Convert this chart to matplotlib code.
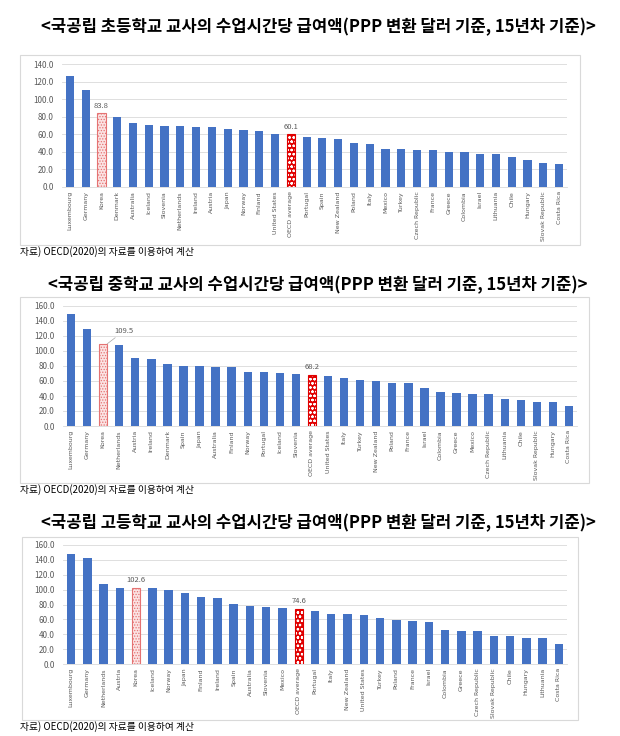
import matplotlib
matplotlib.use('Agg')
import matplotlib.pyplot as plt
from matplotlib.patches import Rectangle

plt.rcParams['font.family'] = ['Noto Sans CJK KR', 'DejaVu Sans']
plt.rcParams['hatch.linewidth'] = 0.6

# 초등학교
elem_countries = ['Luxembourg', 'Germany', 'Korea', 'Denmark', 'Australia', 'Iceland', 'Slovenia',
                  'Netherlands', 'Ireland', 'Austria', 'Japan', 'Norway', 'Finland', 'United States',
                  'OECD average', 'Portugal', 'Spain', 'New Zealand', 'Poland', 'Italy', 'Mexico',
                  'Turkey', 'Czech Republic', 'France', 'Greece', 'Colombia', 'Israel', 'Lithuania',
                  'Chile', 'Hungary', 'Slovak Republic', 'Costa Rica']
elem_values = [126.0, 110.0, 83.8, 80.0, 73.0, 71.0, 70.0, 70.0, 68.5, 68.0, 65.5, 65.0, 63.5, 60.5,
               60.1, 57.0, 55.5, 55.0, 50.5, 49.5, 43.5, 43.5, 42.0, 42.0, 40.0, 40.0, 38.0, 38.0,
               34.0, 31.0, 27.5, 26.0]

# 중학교
mid_countries = ['Luxembourg', 'Germany', 'Korea', 'Netherlands', 'Austria', 'Ireland', 'Denmark',
                 'Spain', 'Japan', 'Australia', 'Finland', 'Norway', 'Portugal', 'Iceland', 'Slovenia',
                 'OECD average', 'United States', 'Italy', 'Turkey', 'New Zealand', 'Poland', 'France',
                 'Israel', 'Colombia', 'Greece', 'Mexico', 'Czech Republic', 'Lithuania', 'Chile',
                 'Slovak Republic', 'Hungary', 'Costa Rica']
mid_values = [149.0, 129.0, 109.5, 108.0, 91.0, 89.0, 82.0, 80.5, 79.5, 78.5, 78.5, 72.5, 71.5, 70.5,
              69.0, 68.2, 66.5, 64.5, 61.5, 60.0, 58.0, 58.0, 51.0, 46.0, 43.5, 43.0, 43.0, 36.0,
              35.0, 32.5, 32.5, 26.5]

# 고등학교
high_countries = ['Luxembourg', 'Germany', 'Netherlands', 'Austria', 'Korea', 'Iceland', 'Norway',
                  'Japan', 'Finland', 'Ireland', 'Spain', 'Australia', 'Slovenia', 'Mexico',
                  'OECD average', 'Portugal', 'Italy', 'New Zealand', 'United States', 'Turkey',
                  'Poland', 'France', 'Israel', 'Colombia', 'Greece', 'Czech Republic',
                  'Slovak Republic', 'Chile', 'Hungary', 'Lithuania', 'Costa Rica']
high_values = [148.5, 142.0, 108.0, 102.5, 102.6, 102.0, 100.0, 96.0, 90.0, 88.5, 80.5, 78.5, 76.5,
               75.0, 74.6, 71.5, 67.0, 67.0, 66.0, 62.0, 59.0, 58.0, 56.0, 46.0, 45.0, 45.0, 37.5,
               37.0, 35.5, 35.5, 26.5]

titles = ['<국공립 초등학교 교사의 수업시간당 급여액(PPP 변환 달러 기준, 15년차 기준)>',
          '<국공립 중학교 교사의 수업시간당 급여액(PPP 변환 달러 기준, 15년차 기준)>',
          '<국공립 고등학교 교사의 수업시간당 급여액(PPP 변환 달러 기준, 15년차 기준)>']
source_note = '자료) OECD(2020)의 자료를 이용하여 계산'

BLUE = '#4472C4'
GRAY = '#595959'
W, H = 620, 736

fig = plt.figure(figsize=(6.2, 7.36), dpi=100)


def px_rect(x0, y0, x1, y1):
    # pixel box (top-left origin) -> figure fraction [l, b, w, h]
    return [x0 / W, 1 - y1 / H, (x1 - x0) / W, (y1 - y0) / H]


def draw_panel(countries, values, ymax, title, title_y, box, plot, note_y, korea_offset=None):
    fig.text(318 / W, 1 - title_y / H, title, ha='center', va='center', fontsize=12,
             fontweight='bold', color='black')
    l, b, w, h = px_rect(*box)
    fig.patches.append(Rectangle((l, b), w, h, transform=fig.transFigure, fill=False,
                                 edgecolor='#D9D9D9', linewidth=0.8))
    fig.text(20 / W, 1 - note_y / H, source_note, ha='left', va='center', fontsize=7,
             color='black')

    ax = fig.add_axes(px_rect(*plot))
    x = range(len(countries))
    for i, (c, v) in enumerate(zip(countries, values)):
        if c == 'Korea':
            ax.bar(i, v, width=0.52, color='#FBE3E3', edgecolor='#E57373', hatch='......',
                   linewidth=0.8, zorder=3)
            if korea_offset is None:
                ax.text(i, v + ymax * 0.03, f'{v:.1f}', ha='center', va='bottom', fontsize=5.5,
                        color=GRAY)
            else:
                ax.annotate(f'{v:.1f}', xy=(i + 0.25, v), xytext=(i + 1.3, v + korea_offset),
                            ha='center', va='bottom', fontsize=5.5, color=GRAY,
                            arrowprops=dict(arrowstyle='-', color='#A6A6A6', lw=0.5,
                                            shrinkA=0, shrinkB=0))
        elif c == 'OECD average':
            ax.bar(i, v, width=0.52, color='#E00000', edgecolor='white', hatch='oooo',
                   linewidth=0, zorder=3)
            ax.bar(i, v, width=0.52, fill=False, edgecolor='#E00000', linewidth=0.8, zorder=4)
            ax.text(i, v + ymax * 0.03, f'{v:.1f}', ha='center', va='bottom', fontsize=5.5,
                    color=GRAY)
        else:
            ax.bar(i, v, width=0.52, color=BLUE, zorder=3)

    ax.set_xlim(-0.5, len(countries) - 0.5)
    ax.set_ylim(0, ymax)
    ax.set_yticks(range(0, ymax + 1, 20))
    ax.set_yticklabels([f'{t:.1f}' for t in range(0, ymax + 1, 20)])
    ax.set_xticks(list(x))
    ax.set_xticklabels(countries, rotation=90, fontsize=4.5, color=GRAY,
                       family=['Liberation Sans Narrow', 'DejaVu Sans'])
    ax.tick_params(axis='y', labelsize=5.8, colors=GRAY, length=0, pad=6)
    ax.tick_params(axis='x', length=0, pad=3)
    ax.grid(axis='y', color='#D9D9D9', linewidth=0.6, zorder=0)
    for s in ['top', 'right', 'left']:
        ax.spines[s].set_visible(False)
    ax.spines['bottom'].set_color('#D9D9D9')
    ax.spines['bottom'].set_linewidth(0.6)
    ax.set_facecolor('none')
    return ax


draw_panel(elem_countries, elem_values, 140, titles[0], 27,
           (20, 55, 580, 245), (62, 64, 567, 187), 252)
draw_panel(mid_countries, mid_values, 160, titles[1], 285,
           (20, 297, 589, 483), (63, 306, 577, 426), 490, korea_offset=12)
draw_panel(high_countries, high_values, 160, titles[2], 523,
           (22, 537, 578, 720), (63, 545, 567, 664), 727)

fig.savefig('out.png', dpi=100)
